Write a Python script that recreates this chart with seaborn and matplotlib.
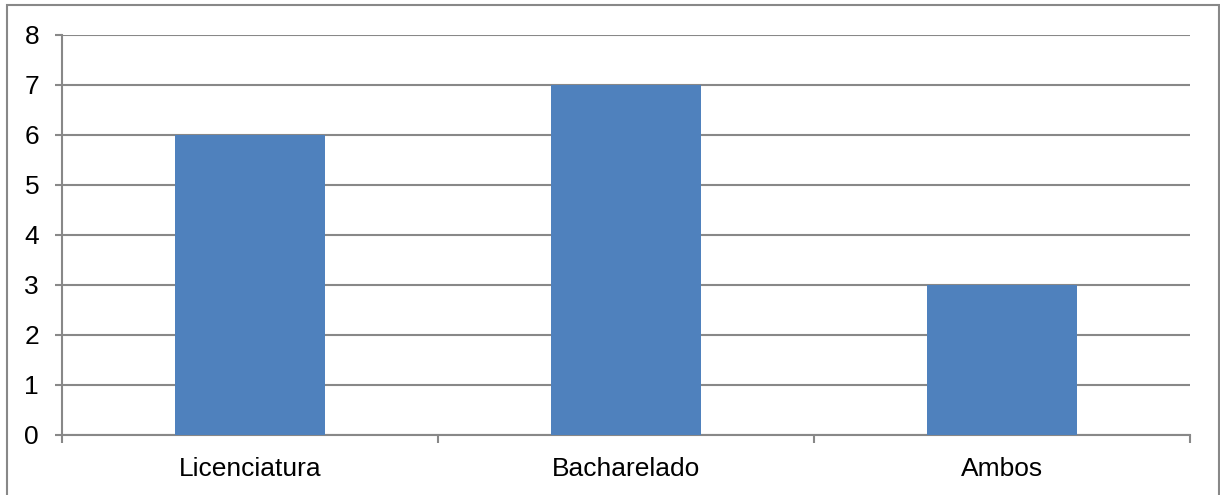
import matplotlib
matplotlib.use("Agg")
import matplotlib.pyplot as plt
import matplotlib.patches as mpatches
import seaborn as sns
import pandas as pd

categories = ["Licenciatura", "Bacharelado", "Ambos"]
values = [6, 7, 3]

sns.set_style("white")
plt.rcParams["font.family"] = ["Liberation Sans", "DejaVu Sans"]

grid_color = "#888888"
bar_color = "#4F81BD"
lw = 1.5

fig = plt.figure(figsize=(12.2, 4.95), dpi=100)
ax = fig.add_axes([62 / 1220, 60 / 495, (1190 - 62) / 1220, 400 / 495])

df = pd.DataFrame({"curso": categories, "n": values})
sns.barplot(data=df, x="curso", y="n", color=bar_color, saturation=1,
            width=0.4, linewidth=0, ax=ax, zorder=3)

ax.set_xlim(-0.5, len(categories) - 0.5)
ax.set_ylim(0, 8)
ax.set_yticks(range(0, 9))
ax.set_xlabel("")
ax.set_ylabel("")

# horizontal gridlines
ax.yaxis.grid(True, color=grid_color, linewidth=lw)
ax.xaxis.grid(False)
ax.set_axisbelow(True)

for side in ["top", "right"]:
    ax.spines[side].set_visible(False)
for side in ["left", "bottom"]:
    ax.spines[side].set_color(grid_color)
    ax.spines[side].set_linewidth(lw)

# category boundary ticks on x, labels centered under bars
ax.set_xticks([i - 0.5 for i in range(len(categories) + 1)], minor=True)
ax.tick_params(axis="x", which="minor", bottom=True, length=5.5, width=lw, color=grid_color)
ax.tick_params(axis="x", which="major", bottom=True, length=0, pad=16,
               labelsize=19, labelcolor="black")
ax.tick_params(axis="y", which="major", left=True, length=5, width=lw, color=grid_color,
               pad=11.5, labelsize=19, labelcolor="black")

# outer chart border
border = mpatches.Rectangle((7 / 1220, -0.05), (1219 - 7) / 1220, 1.05 - 5 / 495,
                            transform=fig.transFigure, fill=False,
                            edgecolor=grid_color, linewidth=lw, clip_on=False)
fig.patches.append(border)

fig.savefig("out.png", dpi=100)
